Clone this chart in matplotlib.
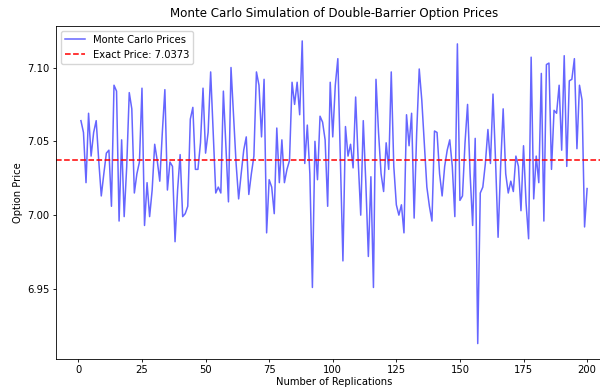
import numpy as np
import matplotlib
matplotlib.use("Agg")
import matplotlib.pyplot as plt

# Prix estimés par Monte Carlo, une valeur par réplication
replications = np.arange(1, 201)
mc_prices = [
    7.064, 7.056, 7.022, 7.069, 7.040, 7.056, 7.064, 7.037, 7.013, 7.028,
    7.042, 7.044, 7.006, 7.088, 7.084, 6.996, 7.051, 6.999, 7.033, 7.083,
    7.072, 7.015, 7.028, 7.036, 7.086, 6.993, 7.022, 6.999, 7.017, 7.048,
    7.037, 7.023, 7.056, 7.085, 7.017, 7.036, 7.033, 6.982, 7.017, 7.041,
    6.999, 7.001, 7.006, 7.065, 7.073, 7.031, 7.031, 7.049, 7.086, 7.042,
    7.056, 7.097, 7.056, 7.015, 7.019, 7.015, 7.084, 7.047, 7.009, 7.100,
    7.067, 7.035, 7.011, 7.028, 7.044, 7.053, 7.014, 7.028, 7.040, 7.097,
    7.088, 7.053, 7.092, 6.988, 7.024, 7.019, 7.001, 7.059, 7.022, 7.051,
    7.022, 7.031, 7.037, 7.090, 7.075, 7.090, 7.068, 7.118, 7.035, 7.061,
    7.028, 6.951, 7.050, 7.024, 7.067, 7.063, 7.051, 7.006, 7.090, 7.053,
    7.088, 7.106, 7.037, 6.969, 7.060, 7.040, 7.048, 7.032, 7.080, 7.037,
    7.000, 7.064, 7.022, 6.972, 7.026, 6.951, 7.092, 7.056, 7.028, 7.016,
    7.049, 7.031, 7.097, 7.033, 7.007, 7.000, 7.007, 6.988, 7.068, 7.047,
    7.069, 6.998, 7.056, 7.099, 7.078, 7.049, 7.019, 7.006, 6.996, 7.057,
    7.056, 7.028, 7.013, 7.033, 7.044, 7.051, 7.033, 6.999, 7.116, 7.010,
    7.013, 7.049, 7.075, 7.028, 6.993, 7.052, 6.913, 7.015, 7.019, 7.035,
    7.058, 7.035, 7.082, 7.037, 6.985, 7.033, 7.072, 7.028, 7.015, 7.023,
    7.016, 7.040, 7.033, 7.003, 7.047, 7.008, 6.984, 7.107, 7.011, 7.040,
    7.022, 7.096, 6.996, 7.102, 7.103, 7.031, 7.071, 7.069, 7.088, 7.044,
    7.108, 7.033, 7.091, 7.092, 7.106, 7.045, 7.088, 7.078, 6.992, 7.018,
]
exact_price = 7.0373

fig = plt.figure(figsize=(6, 3.88), dpi=100)
ax = fig.add_axes([0.0927, 0.0755, 0.928, 0.858])

ax.plot(replications, mc_prices, color='blue', alpha=0.6, linewidth=1.1,
        label='Monte Carlo Prices')
ax.axhline(exact_price, color='red', linestyle='--', linewidth=1.1,
           label=f'Exact Price: {exact_price}')

ax.set_title('Monte Carlo Simulation of Double-Barrier Option Prices', fontsize=8.6, pad=6)
ax.set_xlabel('Number of Replications', fontsize=7.2, labelpad=2)
ax.set_ylabel('Option Price', fontsize=7.2, labelpad=3)
ax.set_xticks([0, 25, 50, 75, 100, 125, 150, 175, 200])
ax.set_yticks([6.95, 7.00, 7.05, 7.10])
ax.tick_params(labelsize=7.2, length=2.2, width=0.6, pad=2)
for s in ax.spines.values():
    s.set_linewidth(0.6)
ax.legend(loc='upper left', fontsize=7.2)

plt.savefig('out.png', dpi=100)
plt.close()
